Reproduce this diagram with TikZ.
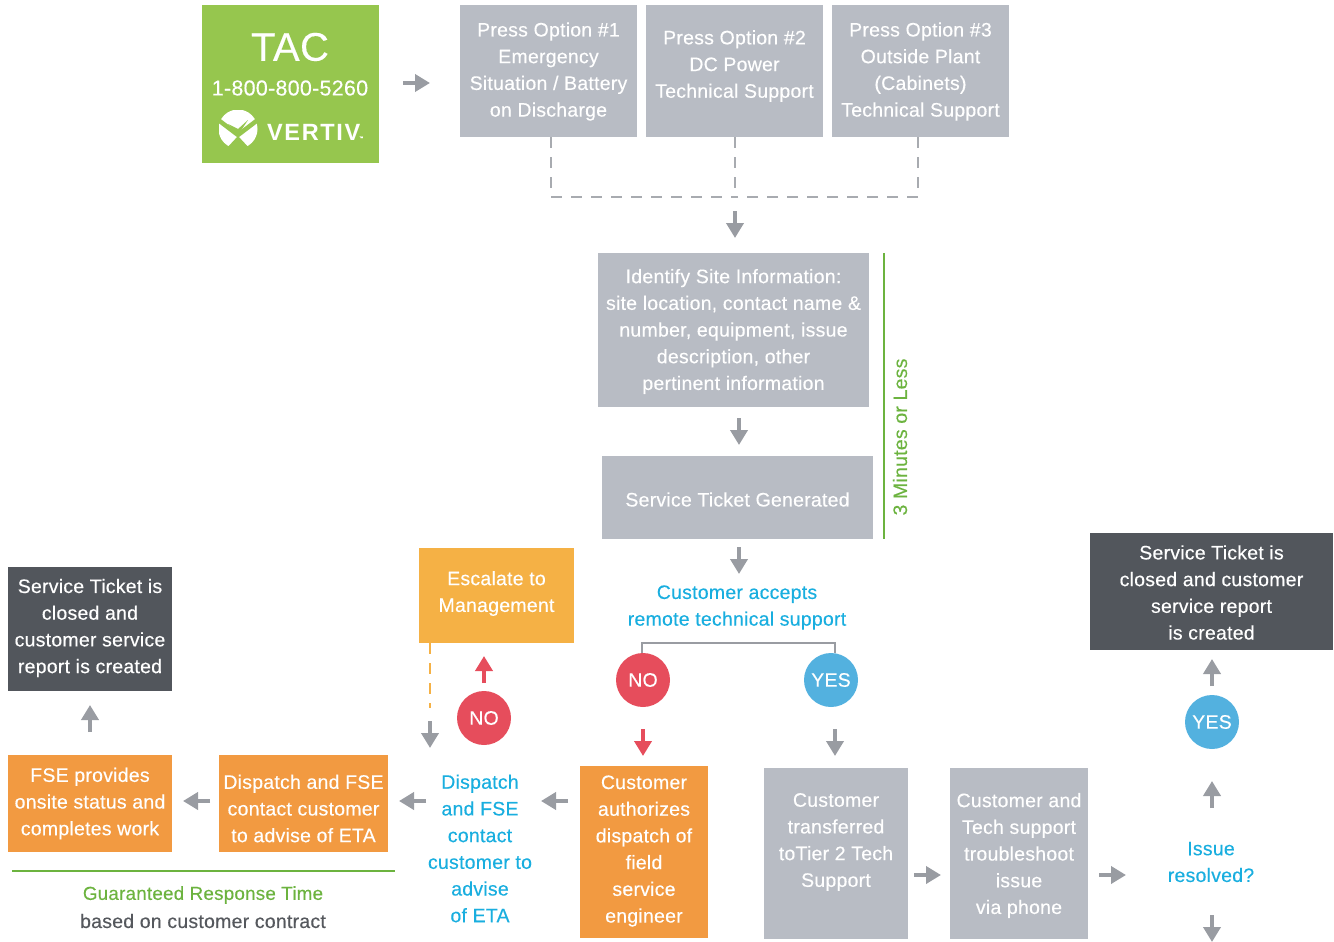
\documentclass[tikz,border=0pt]{standalone}
\usepackage{fontspec}
\setmainfont[FakeBold=0.3,LetterSpace=1.2]{Liberation Sans}
\newfontfamily\vfont[LetterSpace=7]{Liberation Sans}
\usetikzlibrary{arrows.meta}
\definecolor{boxgrey}{HTML}{B8BCC4}
\definecolor{darkbox}{HTML}{52565C}
\definecolor{arrowgrey}{HTML}{999CA2}
\definecolor{tacgreen}{HTML}{96C64E}
\definecolor{linegreen}{HTML}{6CB33F}
\definecolor{orangebox}{HTML}{F29A41}
\definecolor{escbox}{HTML}{F5B145}
\definecolor{flowblue}{HTML}{19AEDF}
\definecolor{norED}{HTML}{E64D5C}
\definecolor{yesblue}{HTML}{53B1DF}
\definecolor{basedgrey}{HTML}{55585D}
\tikzset{
  txt/.style={align=center,inner sep=0pt,font=\fontsize{19.5}{26.7}\selectfont},
  whitetxt/.style={txt,text=white},
  greybox/.style={inner sep=0pt,fill=boxgrey},
  darkb/.style={inner sep=0pt,fill=darkbox},
  orangeb/.style={inner sep=0pt,fill=orangebox},
  bluetext/.style={txt,text=flowblue},
  answer/.style={circle,inner sep=0pt,minimum size=54pt,text=white,font=\fontsize{19.5}{24}\selectfont},
  blockarrow/.style={draw=arrowgrey,line width=4.2pt,-{Triangle[width=17pt,length=15pt]}},
  redarrow/.style={draw=norED,line width=4.2pt,-{Triangle[width=17pt,length=15pt]}},
  dashgrey/.style={draw=arrowgrey!85,line width=2pt,dash pattern=on 11pt off 9pt},
  dashorange/.style={draw=escbox,line width=2pt,dash pattern=on 11pt off 9pt},
}
% style, name, x0, y0, x1, y1, text y-offset, text
\newcommand{\boxat}[8]{%
  \node[#1,minimum width={(#5)-(#3)},minimum height={(#6)-(#4)}] (#2) at ({((#3)+(#5))/2},{((#4)+(#6))/2}) {};
  \node[whitetxt] (#2txt) at ({((#3)+(#5))/2},{((#4)+(#6))/2+(#7)}) {#8};}
\begin{document}
\begin{tikzpicture}[x=1pt,y=-1pt]
\useasboundingbox (0,0) rectangle (1334,942);

% top row
\node[inner sep=0pt,fill=tacgreen,minimum width=177pt,minimum height=158pt] (tac) at (290.5,84) {};
\node[txt,text=white,font=\fontsize{40}{44}\selectfont] (tactitle) at (290,47) {TAC};
\node[txt,text=white,font=\fontsize{21.5}{26}\selectfont] (tacphone) at (290,88) {1-800-800-5260};
\begin{scope}
\clip (219,110) rectangle (258,146.5);
\fill[white] (238,129) circle (19.5);
\draw[tacgreen,line width=4.5pt,line join=miter] (217,119) -- (238,135) -- (259,119);
\fill[tacgreen] (225,150) -- (238,136) -- (251,150) -- cycle;
\fill[tacgreen] (228,124) -- (238,129) -- (248,120) -- (238,135) -- cycle;
\end{scope}
\node[txt,text=white,font=\fontsize{23.5}{28}\vfont\bfseries\selectfont,anchor=west] (vertiv) at (267,132) {VERTIV};
\node[txt,text=white,font=\fontsize{4}{5}\selectfont,anchor=west] (tm) at (359,138) {™};

\boxat{greybox}{opta}{460}{5}{637}{137}{0.5}{Press Option \#1\\Emergency\\Situation / Battery\\on Discharge}
\boxat{greybox}{optb}{646}{5}{823}{137}{-5}{Press Option \#2\\DC Power\\Technical Support}
\boxat{greybox}{optc}{832}{5}{1009}{137}{0.5}{Press Option \#3\\Outside Plant\\(Cabinets)\\Technical Support}

% centre column
\boxat{greybox}{ident}{598}{253}{869}{407}{1.5}{Identify Site Information:\\site location, contact name \&\\number, equipment, issue\\description, other\\pertinent information}
\boxat{greybox}{ticket}{602}{456}{873}{539}{2}{Service Ticket Generated}
\node[bluetext] (accepts) at (737,607.5) {Customer accepts\\remote technical support};
\node[answer,fill=norED] (nob) at (643,680) {NO};
\node[answer,fill=yesblue] (yesb) at (831,680) {YES};
\boxat{txt,fill=escbox}{esc}{419}{548}{574}{643}{-2}{Escalate to\\Management}
\node[answer,fill=norED] (noa) at (484,718) {NO};

% bottom row
\boxat{orangeb}{auth}{580}{766}{708}{938}{-1}{Customer\\authorizes\\dispatch of\\field\\service\\engineer}
\boxat{greybox}{transf}{764}{768}{908}{939}{-11.5}{Customer\\transferred\\toTier 2 Tech\\Support}
\boxat{greybox}{trouble}{950}{768}{1088}{939}{2}{Customer and\\Tech support\\troubleshoot\\issue\\via phone}
\node[bluetext] (resolved) at (1211,862) {Issue\\resolved?};
\node[answer,fill=yesblue] (yesc) at (1212,722) {YES};
\boxat{darkb}{closedr}{1090}{533}{1333}{650}{1}{Service Ticket is\\closed and customer\\service report\\is created}
\node[bluetext] (dispatchtxt) at (480,848.5) {Dispatch\\and FSE\\contact\\customer to\\advise\\of ETA};
\boxat{orangeb}{dispatch}{219}{755}{388}{852}{5}{Dispatch and FSE\\contact customer\\to advise of ETA}
\boxat{orangeb}{fse}{8}{755}{172}{852}{0}{FSE provides\\onsite status and\\completes work}
\boxat{darkb}{closedl}{8}{567}{172}{691}{-1}{Service Ticket is\\closed and\\customer service\\report is created}
\node[txt,text=linegreen,font=\fontsize{18.8}{24}\selectfont] (grt) at (203,895) {Guaranteed Response Time};
\node[txt,text=basedgrey] (based) at (203,921) {based on customer contract};
\node[txt,text=linegreen,rotate=90] (three) at (900,437) {3 Minutes or Less};

% connector ends
\coordinate (merge) at (735,197);
\coordinate (mergel) at (551,197);
\coordinate (merger) at (918,197);
\coordinate (topa) at (551,137);
\coordinate (topb) at (735,137);
\coordinate (topc) at (918,137);
\coordinate (brl) at (642,643);
\coordinate (brr) at (835,643);
\coordinate (brla) at (642,653);
\coordinate (brra) at (835,653);
\coordinate (escd) at (430,643);
\coordinate (esce) at (430,708);
\coordinate (tl) at (884,253);
\coordinate (bl) at (884,539);
\coordinate (gl) at (12,871);
\coordinate (gr) at (395,871);

% dashed junction
\draw[dashgrey] (topa) -- (mergel) -- (merge);
\draw[dashgrey] (topc) -- (merger) -- (merge);
\draw[dashgrey] (topb) -- (merge);
\draw[dashorange] (escd) -- (esce);
\draw[draw=arrowgrey,line width=2pt] (brla) -- (brl) -- (brr) -- (brra);
\draw[linegreen,line width=2pt] (tl) -- (bl);
\draw[linegreen,line width=2pt] (gl) -- (gr);

% block arrows
\coordinate (a1s) at (403,83);   \coordinate (a1e) at (430,83);
\coordinate (a2s) at (735,211);  \coordinate (a2e) at (735,238);
\coordinate (a3s) at (739,418);  \coordinate (a3e) at (739,445);
\coordinate (a4s) at (739,547);  \coordinate (a4e) at (739,574);
\coordinate (a5s) at (430,721);  \coordinate (a5e) at (430,748);
\coordinate (a6s) at (835,729);  \coordinate (a6e) at (835,756);
\coordinate (a7s) at (914,875);  \coordinate (a7e) at (941,875);
\coordinate (a8s) at (1099,875); \coordinate (a8e) at (1126,875);
\coordinate (a9s) at (1212,808); \coordinate (a9e) at (1212,781);
\coordinate (a10s) at (1212,686);\coordinate (a10e) at (1212,659);
\coordinate (a11s) at (1212,915);\coordinate (a11e) at (1212,942);
\coordinate (a12s) at (568,801); \coordinate (a12e) at (541,801);
\coordinate (a13s) at (426,801); \coordinate (a13e) at (399,801);
\coordinate (a14s) at (210,801); \coordinate (a14e) at (183,801);
\coordinate (a15s) at (90,732);  \coordinate (a15e) at (90,705);
\coordinate (r1s) at (484,683);  \coordinate (r1e) at (484,656);
\coordinate (r2s) at (643,729);  \coordinate (r2e) at (643,756);
\foreach \n in {a1,a2,a3,a4,a5,a6,a7,a8,a9,a10,a11,a12,a13,a14,a15}{\draw[blockarrow] (\n s) -- (\n e);}
\draw[redarrow] (r1s) -- (r1e);
\draw[redarrow] (r2s) -- (r2e);
\end{tikzpicture}
\end{document}
